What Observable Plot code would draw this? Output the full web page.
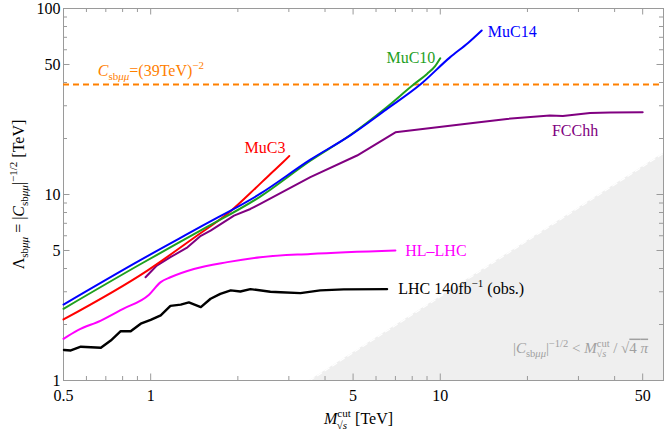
<!DOCTYPE html>
<html>
<head>
<meta charset="utf-8">
<script src="https://cdn.jsdelivr.net/npm/d3@7"></script>
<script src="https://cdn.jsdelivr.net/npm/@observablehq/plot@0.6"></script>
<style>
  html, body { margin: 0; padding: 0; background: white; }
  #chart svg { display: block; }
</style>
</head>
<body>
<div id="chart"></div>
<script>
// ---------- data ----------
const xTicksMajor = [0.5, 1, 5, 10, 50];
const xTicksMinor = [0.6, 0.7, 0.8, 0.9, 2, 3, 4, 6, 7, 8, 9, 20, 30, 40];
const yTicksMajor = [1, 5, 10, 50, 100];
const yTicksMinor = [2, 3, 4, 6, 7, 8, 9, 20, 30, 40, 60, 70, 80, 90];

const muc14X = [0.5, 0.924, 1.5, 2.39, 3.56, 4.89, 6.5, 8.53, 10.8, 12.5, 13.9];
const muc14Y = [2.56, 4.45, 6.75, 10.1, 15.4, 20.8, 28.6, 39, 54.6, 65.5, 76.2];

const muc10X = [0.5, 0.924, 1.5, 2.39, 3.56, 4.89, 6.5, 8.09, 9.0, 9.6, 10.0];
const muc10Y = [2.43, 4.23, 6.45, 9.75, 15.2, 20.9, 29.3, 39, 44.5, 49, 54];

const muc3X = [0.5, 0.974, 1.4, 1.9, 2.3, 2.59, 2.85, 3.01];
const muc3Y = [2.13, 3.9, 5.8, 8.2, 10.8, 12.9, 14.8, 16.1];

const fcchhX = [0.96, 1.05, 1.17, 1.34, 1.49, 1.61, 1.94, 2.21, 2.39, 3.56, 5.16, 7.0, 13.4, 17.0, 23.9, 26.5, 32.9, 38.6, 50];
const fcchhY = [3.59, 4.15, 4.6, 5.2, 6.0, 6.4, 7.7, 8.36, 8.9, 12.4, 16.2, 21.6, 24.4, 25.5, 26.6, 26.4, 27.4, 27.6, 27.7];

const hllhcX = [0.5, 0.559, 0.673, 0.8, 0.987, 1.083, 1.17, 1.41, 1.84, 2.39, 3.56, 7.0];
const hllhcY = [1.675, 1.86, 2.1, 2.42, 2.89, 3.38, 3.59, 3.98, 4.33, 4.6, 4.79, 5.0];

const lhcX = [0.502, 0.53, 0.574, 0.673, 0.728, 0.788, 0.853, 0.924, 1.0, 1.083, 1.17, 1.27, 1.355, 1.49, 1.61, 1.74, 1.89, 2.04, 2.21, 2.59, 2.81, 3.29, 3.85, 4.64, 6.55];
const lhcY = [1.46, 1.45, 1.52, 1.50, 1.64, 1.84, 1.84, 2.02, 2.12, 2.24, 2.52, 2.56, 2.63, 2.48, 2.75, 2.92, 3.05, 3.01, 3.10, 3.00, 2.98, 2.95, 3.05, 3.09, 3.10];

const cLimit = [39];                 // (39 TeV)^-2 line
const shadeX = [3.545, 60];          // |C|^-1/2 = M / sqrt(4 pi)
const shadeLo = [1, 1];
const shadeHi = [1, 16.93];

// ---------- build tables ----------
const rows = (xs, ys) => xs.map((x, i) => ({x, y: ys[i]}));
const shade = shadeX.map((x, i) => ({x, lo: shadeLo[i], hi: shadeHi[i]}));

const FONT = "Liberation Serif";
const frameGray = "#9a9a9a";
const W = 668, H = 436, ML = 63, MR = 5, MT = 8, MB = 56;
const PW = W - ML - MR, PH = H - MT - MB;
const MAJ = 6.5, MIN = 4;

const sub = (t) => `<tspan dy="4" font-size="11">${t}</tspan>`;
const sbmm = `sb<tspan font-style="italic">μμ</tspan>`;

const labelMark = (x, y, text, color, cls, anchor = "start") =>
  Plot.text([text], {x: () => x, y: () => y, text: d => d, fill: color, fontSize: 16,
    textAnchor: anchor, lineAnchor: "middle", className: cls});

const tickStyle = {stroke: frameGray, strokeWidth: 1};

const chart = Plot.plot({
  width: W,
  height: H,
  marginLeft: ML,
  marginRight: MR,
  marginTop: MT,
  marginBottom: MB,
  style: {fontFamily: FONT, fontSize: "16px", background: "white", color: "black"},
  x: {type: "log", domain: [0.5, 59], label: null},
  y: {type: "log", domain: [1, 100], label: null},
  marks: [
    // shaded perturbativity region
    Plot.area(shade, {x1: "x", y1: "lo", y2: "hi", fill: "#efefef", clip: true}),
    Plot.line(shade, {x: "x", y: "hi", stroke: "white", strokeWidth: 1.2, strokeDasharray: "5,4", clip: true}),
    // tick labels
    Plot.axisX({anchor: "bottom", ticks: xTicksMajor, tickSize: 0, tickPadding: 9, tickFormat: d => String(d), label: null, fontSize: 16}),
    Plot.axisY({anchor: "left", ticks: yTicksMajor, tickSize: 0, tickPadding: 3, tickFormat: d => String(d), label: null, fontSize: 16}),
    // inward ticks on all four sides (Mathematica-like frame)
    Plot.tickX(xTicksMajor, {x: d => d, insetTop: PH - MAJ, ...tickStyle}),
    Plot.tickX(xTicksMinor, {x: d => d, insetTop: PH - MIN, ...tickStyle}),
    Plot.tickX(xTicksMajor, {x: d => d, insetBottom: PH - MAJ, ...tickStyle}),
    Plot.tickX(xTicksMinor, {x: d => d, insetBottom: PH - MIN, ...tickStyle}),
    Plot.tickY(yTicksMajor, {y: d => d, insetRight: PW - MAJ, ...tickStyle}),
    Plot.tickY(yTicksMinor, {y: d => d, insetRight: PW - MIN, ...tickStyle}),
    Plot.tickY(yTicksMajor, {y: d => d, insetLeft: PW - MAJ, ...tickStyle}),
    Plot.tickY(yTicksMinor, {y: d => d, insetLeft: PW - MIN, ...tickStyle}),
    Plot.frame({stroke: frameGray}),
    // reference line
    Plot.ruleY(cLimit, {stroke: "#ff8000", strokeWidth: 2, strokeDasharray: "6,4"}),
    // curves
    Plot.line(rows(lhcX, lhcY), {x: "x", y: "y", stroke: "black", strokeWidth: 2.4, curve: "linear"}),
    Plot.line(rows(hllhcX, hllhcY), {x: "x", y: "y", stroke: "#ff00ff", strokeWidth: 2, curve: "monotone-x"}),
    Plot.line(rows(fcchhX, fcchhY), {x: "x", y: "y", stroke: "#800080", strokeWidth: 2, curve: "linear"}),
    Plot.line(rows(muc3X, muc3Y), {x: "x", y: "y", stroke: "#ff0000", strokeWidth: 2, curve: "monotone-x"}),
    Plot.line(rows(muc10X, muc10Y), {x: "x", y: "y", stroke: "#1fa01f", strokeWidth: 2, curve: "monotone-x"}),
    Plot.line(rows(muc14X, muc14Y), {x: "x", y: "y", stroke: "#0000ff", strokeWidth: 2, curve: "monotone-x"}),
    // curve labels
    labelMark(14.6, 75, "MuC14", "#0000ff", "lbl-muc14"),
    labelMark(6.52, 54.5, "MuC10", "#1fa01f", "lbl-muc10"),
    labelMark(2.11, 17.9, "MuC3", "#ff0000", "lbl-muc3"),
    labelMark(24.3, 22.0, "FCChh", "#800080", "lbl-fcchh"),
    labelMark(7.57, 5.0, "HL–LHC", "#ff00ff", "lbl-hllhc"),
    labelMark(7.16, 3.12, "LHC 140fb−1 (obs.)", "black", "lbl-lhc"),
    labelMark(0.657, 46.4, "Csbμμ=(39TeV)−2", "#ff8000", "lbl-c39"),
    labelMark(52.2, 1.5, "|Csbμμ|−1/2 < Mcut√s / √4 π", "#a0a0a0", "lbl-shade", "end"),
    // axis titles
    Plot.text(["Λsbμμ = |Csbμμ|−1/2 [TeV]"], {frameAnchor: "left", dx: -45, rotate: -90, text: d => d,
      fontSize: 16, textAnchor: "middle", lineAnchor: "middle", className: "lbl-ytitle"}),
    Plot.text(["Mcut√s [TeV]"], {frameAnchor: "bottom", dx: -5, dy: 38, text: d => d,
      fontSize: 16, textAnchor: "middle", lineAnchor: "middle", className: "lbl-xtitle"})
  ]
});

// ---------- rich text (sub/superscripts) ----------
const rich = {
  "lbl-lhc": `LHC 140fb<tspan dy="-7" font-size="11">−1</tspan><tspan dy="7"> (obs.)</tspan>`,
  "lbl-c39": `<tspan font-style="italic">C</tspan>${sub(sbmm)}<tspan dy="-4">=(39TeV)</tspan><tspan dy="-7" font-size="11">−2</tspan>`,
  "lbl-shade": `|<tspan font-style="italic">C</tspan><tspan dy="4" font-size="10.5">${sbmm}</tspan><tspan dy="-4">|</tspan><tspan dy="-6" font-size="10.5">−1/2</tspan><tspan dy="6"> &lt; </tspan><tspan font-style="italic">M</tspan><tspan dy="-6" font-size="10.5">cut</tspan><tspan dx="-13" dy="10" font-size="10.5">√<tspan font-style="italic">s</tspan></tspan><tspan dy="-4" dx="3"> / √</tspan><tspan text-decoration="overline">4 <tspan font-style="italic">π</tspan></tspan>`,
  "lbl-ytitle": `Λ${sub(sbmm)}<tspan dy="-4"> = |</tspan><tspan font-style="italic">C</tspan>${sub(sbmm)}<tspan dy="-4">|</tspan><tspan dy="-7" font-size="11">−1/2</tspan><tspan dy="7"> [TeV]</tspan>`,
  "lbl-xtitle": `<tspan font-style="italic">M</tspan><tspan dy="-7" font-size="11">cut</tspan><tspan dx="-14" dy="12" font-size="11">√<tspan font-style="italic">s</tspan></tspan><tspan dy="-5" dx="4"> [TeV]</tspan>`
};
for (const [cls, html] of Object.entries(rich)) {
  const t = chart.querySelector(`.${cls} text`);
  if (t) t.innerHTML = html;
}
chart.querySelectorAll(".lbl-shade text").forEach(t => t.setAttribute("font-size", "15"));

document.getElementById("chart").appendChild(chart);
</script>
</body>
</html>
